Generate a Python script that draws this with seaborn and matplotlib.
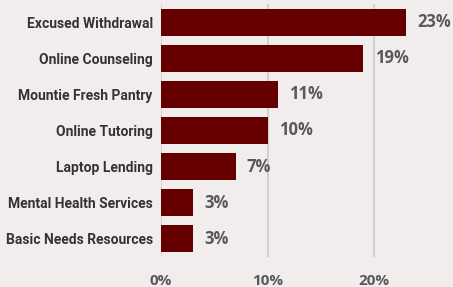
import matplotlib
matplotlib.use("Agg")
import matplotlib.pyplot as plt
import seaborn as sns
import pandas as pd

services = ['Excused Withdrawal', 'Online Counseling', 'Mountie Fresh Pantry',
            'Online Tutoring', 'Laptop Lending', 'Mental Health Services',
            'Basic Needs Resources']
shares = [0.23, 0.19, 0.11, 0.10, 0.07, 0.03, 0.03]
xticks = [0, 0.10, 0.20]
xtick_labels = ['0%', '10%', '20%']

df = pd.DataFrame({'service': services, 'share': shares})

bg = '#f2eded'
bar_color = '#660000'
text_gray = '#595959'

sns.set_style('white')
plt.rcParams['font.family'] = ['Open Sans', 'DejaVu Sans']

fig = plt.figure(figsize=(4.53, 2.87), dpi=100, facecolor=bg)
ax = fig.add_axes([161 / 453, 1 - 257 / 287, (453 - 161) / 453, 253 / 287])
ax.set_facecolor(bg)

sns.barplot(data=df, x='share', y='service', color=bar_color, width=0.75,
            saturation=1, linewidth=0, ax=ax, zorder=3)

ax.set_xlim(0, 0.274)
ax.set_ylim(6.5, -0.5)
ax.set_xticks(xticks)
ax.set_xticklabels(xtick_labels, fontsize=11, fontweight='bold', color=text_gray)
ax.tick_params(axis='x', length=0, pad=12)
ax.tick_params(axis='y', length=0, pad=6)
for lab in ax.get_yticklabels():
    lab.set_fontfamily('Roboto')
    lab.set_fontweight('bold')
    lab.set_fontsize(10)
    lab.set_color('#333333')
ax.set_xlabel('')
ax.set_ylabel('')
ax.grid(axis='x', color='#cfcaca', linewidth=1.2, zorder=0)
for s in ax.spines.values():
    s.set_visible(False)

for i, v in enumerate(shares):
    ax.annotate(f'{round(v * 100)}%', xy=(v, i), xytext=(8, 0),
                textcoords='offset points', va='center', ha='left',
                fontsize=12, fontweight='bold', color=text_gray)

fig.savefig('out.png', dpi=100, facecolor=bg)
